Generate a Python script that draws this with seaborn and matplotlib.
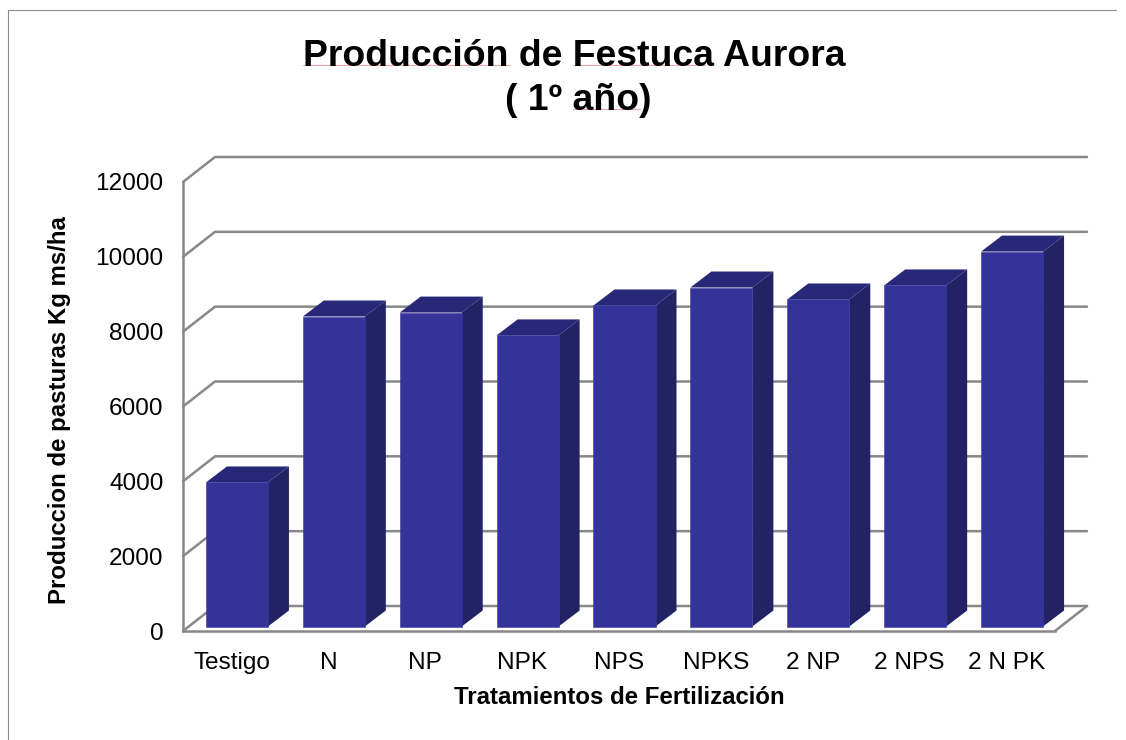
import matplotlib
matplotlib.use("Agg")
import matplotlib.pyplot as plt
import seaborn as sns
from matplotlib.lines import Line2D
from matplotlib.patches import Polygon
from matplotlib.transforms import Affine2D

tratamientos = ["Testigo", "N", "NP", "NPK", "NPS", "NPKS", "2 NP", "2 NPS", "2 N PK"]
produccion = [3850, 8285, 8390, 7780, 8580, 9060, 8740, 9115, 10020]
y_ticks = [0, 2000, 4000, 6000, 8000, 10000, 12000]

W, H = 1126, 740
FRONT = "#333399"
TOP = "#282878"
SIDE = "#222265"
GREY = "#888888"

sns.set_style("white")
plt.rcParams["font.family"] = ["Liberation Sans", "DejaVu Sans"]

fig = plt.figure(figsize=(W / 100, H / 100), dpi=100)
# axes box is the front plane of the fake 3d chart
ax = fig.add_axes([183 / W, 1 - 631 / H, 872 / W, 449 / H])
ax.set_zorder(3)

sns.barplot(x=tratamientos, y=produccion, color=FRONT, saturation=1, width=0.64, ax=ax, zorder=3)
ax.set_xlim(-0.5, 8.5)
ax.set_ylim(0, 12000)
ax.set_yticks(y_ticks)
ax.tick_params(axis="both", length=0, labelsize=17.6, labelcolor="black")
ax.tick_params(axis="x", pad=15)
ax.tick_params(axis="y", pad=14)
ax.set_xlabel("")
ax.set_ylabel("")
ax.patch.set_alpha(0)

for name in ["top", "right"]:
    ax.spines[name].set_visible(False)
for name in ["left", "bottom"]:
    ax.spines[name].set_color(GREY)
    ax.spines[name].set_linewidth(1.8)
    ax.spines[name].set_zorder(5)

# walls: depth offset in pixels from the front plane to the back plane
DX, DY = 32, 25
pix = ax.transData
for v in y_ticks:
    x0, y0 = pix.transform((-0.5, v))
    x1, _ = pix.transform((8.5, v))
    line = Line2D([x0, x0 + DX, x1 + DX], [y0, y0 + DY, y0 + DY], color=GREY, lw=1.8,
                  transform=None, zorder=1, solid_joinstyle="miter")
    fig.add_artist(line)
x1, y1 = pix.transform((8.5, 0))
fig.add_artist(Line2D([x1, x1 + DX], [y1, y1 + DY], color=GREY, lw=1.8, transform=None, zorder=1))

# bars sit a little inside the floor, then get a top and a side face
BX, BY = 5.5, 4.5
SX, SY = 21, 16
for bar in ax.patches:
    a, b = pix.transform((bar.get_x(), 0))
    c, d = pix.transform((bar.get_x() + bar.get_width(), bar.get_height()))
    a, c = a + BX, c + BX
    b, d = b + BY, d + BY
    bar.set_transform(pix + Affine2D().translate(BX, BY))
    bar.set_edgecolor("#3a3a9e")
    bar.set_linewidth(0.4)
    side = [(c, b), (c + SX, b + SY), (c + SX, d + SY), (c, d)]
    top = [(a, d), (c, d), (c + SX, d + SY), (a + SX, d + SY)]
    fig.add_artist(Polygon(side, closed=True, fc=SIDE, ec="none", transform=None, zorder=2))
    fig.add_artist(Polygon(top, closed=True, fc=TOP, ec="none", transform=None, zorder=2))

# text placed by figure fraction
fig.text(574 / W, 1 - 56 / H, "Producción de Festuca Aurora", ha="center", va="center",
         fontsize=26.9, fontweight="bold", color="black")
fig.text(578 / W, 1 - 101 / H, "( 1º año)", ha="center", va="center",
         fontsize=26.9, fontweight="bold", color="black")
fig.text(619 / W, 1 - 698 / H, "Tratamientos de Fertilización", ha="center", va="center",
         fontsize=17.3, fontweight="bold", color="black")
fig.text(60 / W, 1 - 410 / H, "Produccion de pasturas Kg ms/ha", ha="center", va="center",
         rotation=90, fontsize=17.3, fontweight="bold", color="black")

# spell check underlines left in the title
for xa, xb, yy in [(303, 510, 65), (573, 705, 65), (573, 640, 109)]:
    fig.add_artist(Line2D([xa / W, xb / W], [1 - yy / H, 1 - yy / H], color="#f2a6a6", lw=0.8))

# chart frame
fig.add_artist(Line2D([8 / W, 8 / W, 1116 / W], [0, 1 - 10 / H, 1 - 10 / H], color="#8c8c8c", lw=0.8))

fig.savefig("out.png", dpi=100)
